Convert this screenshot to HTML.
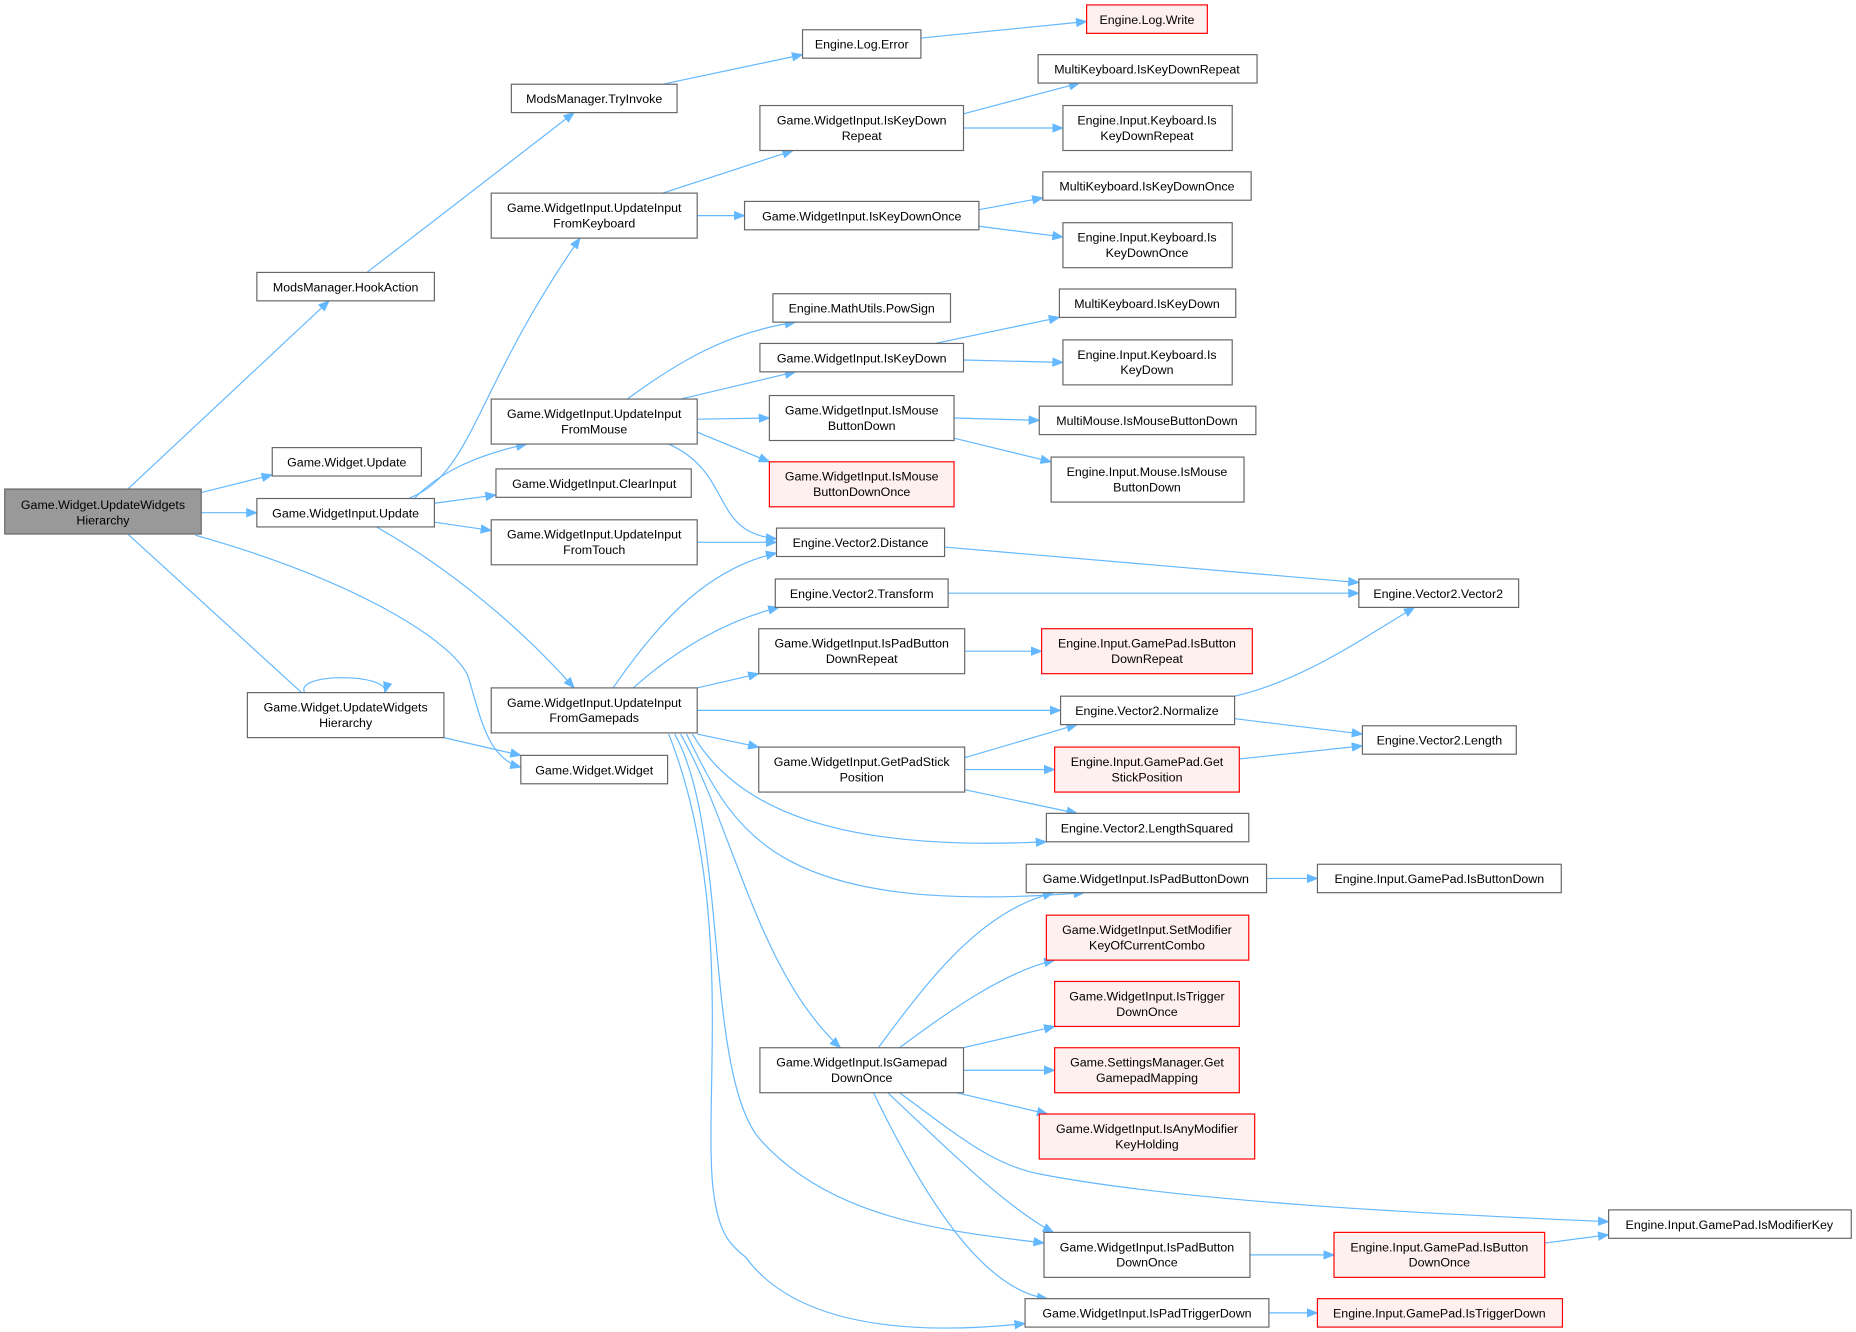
<!DOCTYPE html>
<html><head><meta charset="utf-8"><style>
html,body{margin:0;padding:0;background:#fff;}
svg{display:block;}
text{font-family:"Liberation Sans",Arial,sans-serif;font-size:10.5px;fill:#000;text-anchor:middle;}
.n{fill:#fff;stroke:#666;stroke-width:1;}
.r{fill:#fff0f0;stroke:#f00;stroke-width:1;}
.g{fill:#999;stroke:#666;stroke-width:1;}
.e{fill:none;stroke:#63b8ff;stroke-width:1;marker-end:url(#a);}
</style></head><body>
<svg width="1856" height="1332" viewBox="0 0 1568 1125" xmlns="http://www.w3.org/2000/svg">
<defs><marker id="a" markerWidth="10" markerHeight="8" refX="9" refY="4" orient="auto" markerUnits="userSpaceOnUse"><path d="M0,0 L10,4 L0,8 z" fill="#63b8ff"/></marker></defs>
<g>
<path class="e" d="M108,413 L278,254"/>
<path class="e" d="M170,416 L230,401"/>
<path class="e" d="M170,433 L217,433"/>
<path class="e" d="M108,451 L268,597"/>
<path class="e" d="M165,452 C300,490 380,540 395,570 C405,600 410,640 440,648"/>
<path class="e" d="M310,230 L485,95"/>
<path class="e" d="M560,71 L678,46"/>
<path class="e" d="M778,32 L918,18"/>
<path class="e" d="M345,421 C400,400 400,330 490,201"/>
<path class="e" d="M350,421 C370,400 400,385 445,375"/>
<path class="e" d="M367,425 L419,418"/>
<path class="e" d="M367,441 L415,448"/>
<path class="e" d="M318,445 C380,480 440,530 485,581"/>
<path class="e" d="M258,586 C245,568 330,568 325,585"/>
<path class="e" d="M375,623 L440,638"/>
<path class="e" d="M560,163 L670,127"/>
<path class="e" d="M589,182 L629,182"/>
<path class="e" d="M814,96 L912,70"/>
<path class="e" d="M814,108 L898,108"/>
<path class="e" d="M827,177 L881,167"/>
<path class="e" d="M827,191 L898,200"/>
<path class="e" d="M530,337 C580,300 620,280 672,272"/>
<path class="e" d="M575,337 L672,314"/>
<path class="e" d="M589,354 L650,353"/>
<path class="e" d="M589,365 L650,390"/>
<path class="e" d="M565,375 C620,400 600,450 656,455"/>
<path class="e" d="M790,290 L895,268"/>
<path class="e" d="M814,304 L898,306"/>
<path class="e" d="M806,353 L878,355"/>
<path class="e" d="M806,370 L888,390"/>
<path class="e" d="M589,458 L656,458"/>
<path class="e" d="M798,462 L1148,492"/>
<path class="e" d="M801,501 L1148,501"/>
<path class="e" d="M518,581 C560,520 600,480 656,467"/>
<path class="e" d="M535,581 C570,550 610,525 658,513"/>
<path class="e" d="M589,581 L641,569"/>
<path class="e" d="M815,550 L880,550"/>
<path class="e" d="M589,600 L896,600"/>
<path class="e" d="M589,620 L641,631"/>
<path class="e" d="M1043,588 C1100,575 1150,540 1195,513"/>
<path class="e" d="M1043,607 L1151,620"/>
<path class="e" d="M815,650 L891,650"/>
<path class="e" d="M815,640 L910,612"/>
<path class="e" d="M815,667 L910,687"/>
<path class="e" d="M1047,641 L1151,630"/>
<path class="e" d="M585,620 C620,680 700,720 884,711"/>
<path class="e" d="M580,620 C620,700 650,775 916,754"/>
<path class="e" d="M575,620 C620,700 640,820 710,885"/>
<path class="e" d="M570,620 C615,700 595,900 640,960 C700,1030 800,1040 882,1050"/>
<path class="e" d="M565,620 C620,760 595,920 602,1000 C606,1040 615,1050 630,1062 C680,1130 800,1125 866,1118"/>
<path class="e" d="M1070,742 L1113,742"/>
<path class="e" d="M742,885 C790,820 830,770 890,754"/>
<path class="e" d="M760,885 C800,855 850,820 891,811"/>
<path class="e" d="M814,885 L891,867"/>
<path class="e" d="M814,904 L891,904"/>
<path class="e" d="M808,923 L885,941"/>
<path class="e" d="M760,923 C810,960 840,985 880,992 C1000,1015 1200,1025 1359,1032"/>
<path class="e" d="M750,923 C800,970 850,1020 890,1041"/>
<path class="e" d="M738,923 C780,1010 830,1090 885,1097"/>
<path class="e" d="M1056,1060 L1127,1060"/>
<path class="e" d="M1305,1050 L1359,1043"/>
<path class="e" d="M1072,1109 L1113,1109"/>
</g>
<g>
<rect class="g" x="4" y="413" width="166" height="38"/><text x="87" y="430">Game.Widget.UpdateWidgets</text><text x="87" y="443">Hierarchy</text>
<rect class="n" x="217" y="230" width="150" height="24"/><text x="292" y="246">ModsManager.HookAction</text>
<rect class="n" x="432" y="71" width="140" height="24"/><text x="502" y="87">ModsManager.TryInvoke</text>
<rect class="n" x="678" y="25" width="100" height="24"/><text x="728" y="41">Engine.Log.Error</text>
<rect class="r" x="918" y="4" width="102" height="24"/><text x="969" y="20">Engine.Log.Write</text>
<rect class="n" x="877" y="46" width="185" height="24"/><text x="969" y="62">MultiKeyboard.IsKeyDownRepeat</text>
<rect class="n" x="642" y="89" width="172" height="38"/><text x="728" y="105">Game.WidgetInput.IsKeyDown</text><text x="728" y="118">Repeat</text>
<rect class="n" x="898" y="89" width="143" height="38"/><text x="969" y="105">Engine.Input.Keyboard.Is</text><text x="969" y="118">KeyDownRepeat</text>
<rect class="n" x="415" y="163" width="174" height="38"/><text x="502" y="179">Game.WidgetInput.UpdateInput</text><text x="502" y="192">FromKeyboard</text>
<rect class="n" x="629" y="170" width="198" height="24"/><text x="728" y="186">Game.WidgetInput.IsKeyDownOnce</text>
<rect class="n" x="881" y="145" width="176" height="24"/><text x="969" y="161">MultiKeyboard.IsKeyDownOnce</text>
<rect class="n" x="898" y="188" width="143" height="38"/><text x="969" y="204">Engine.Input.Keyboard.Is</text><text x="969" y="217">KeyDownOnce</text>
<rect class="n" x="653" y="248" width="150" height="24"/><text x="728" y="264">Engine.MathUtils.PowSign</text>
<rect class="n" x="895" y="244" width="149" height="24"/><text x="969" y="260">MultiKeyboard.IsKeyDown</text>
<rect class="n" x="642" y="290" width="172" height="24"/><text x="728" y="306">Game.WidgetInput.IsKeyDown</text>
<rect class="n" x="898" y="287" width="143" height="38"/><text x="969" y="303">Engine.Input.Keyboard.Is</text><text x="969" y="316">KeyDown</text>
<rect class="n" x="415" y="337" width="174" height="38"/><text x="502" y="353">Game.WidgetInput.UpdateInput</text><text x="502" y="366">FromMouse</text>
<rect class="n" x="650" y="334" width="156" height="38"/><text x="728" y="350">Game.WidgetInput.IsMouse</text><text x="728" y="363">ButtonDown</text>
<rect class="n" x="878" y="343" width="183" height="24"/><text x="969" y="359">MultiMouse.IsMouseButtonDown</text>
<rect class="r" x="650" y="390" width="156" height="38"/><text x="728" y="406">Game.WidgetInput.IsMouse</text><text x="728" y="419">ButtonDownOnce</text>
<rect class="n" x="888" y="386" width="163" height="38"/><text x="969" y="402">Engine.Input.Mouse.IsMouse</text><text x="969" y="415">ButtonDown</text>
<rect class="n" x="230" y="378" width="126" height="24"/><text x="293" y="394">Game.Widget.Update</text>
<rect class="n" x="419" y="396" width="165" height="24"/><text x="502" y="412">Game.WidgetInput.ClearInput</text>
<rect class="n" x="217" y="421" width="150" height="24"/><text x="292" y="437">Game.WidgetInput.Update</text>
<rect class="n" x="415" y="439" width="174" height="38"/><text x="502" y="455">Game.WidgetInput.UpdateInput</text><text x="502" y="468">FromTouch</text>
<rect class="n" x="656" y="446" width="142" height="24"/><text x="727" y="462">Engine.Vector2.Distance</text>
<rect class="n" x="655" y="489" width="146" height="24"/><text x="728" y="505">Engine.Vector2.Transform</text>
<rect class="n" x="1148" y="489" width="135" height="24"/><text x="1215" y="505">Engine.Vector2.Vector2</text>
<rect class="n" x="641" y="531" width="174" height="38"/><text x="728" y="547">Game.WidgetInput.IsPadButton</text><text x="728" y="560">DownRepeat</text>
<rect class="r" x="880" y="531" width="178" height="38"/><text x="969" y="547">Engine.Input.GamePad.IsButton</text><text x="969" y="560">DownRepeat</text>
<rect class="n" x="415" y="581" width="174" height="38"/><text x="502" y="597">Game.WidgetInput.UpdateInput</text><text x="502" y="610">FromGamepads</text>
<rect class="n" x="209" y="585" width="166" height="38"/><text x="292" y="601">Game.Widget.UpdateWidgets</text><text x="292" y="614">Hierarchy</text>
<rect class="n" x="896" y="588" width="147" height="24"/><text x="969" y="604">Engine.Vector2.Normalize</text>
<rect class="n" x="1151" y="613" width="130" height="24"/><text x="1216" y="629">Engine.Vector2.Length</text>
<rect class="n" x="440" y="638" width="124" height="24"/><text x="502" y="654">Game.Widget.Widget</text>
<rect class="n" x="641" y="631" width="174" height="38"/><text x="728" y="647">Game.WidgetInput.GetPadStick</text><text x="728" y="660">Position</text>
<rect class="r" x="891" y="631" width="156" height="38"/><text x="969" y="647">Engine.Input.GamePad.Get</text><text x="969" y="660">StickPosition</text>
<rect class="n" x="884" y="687" width="171" height="24"/><text x="969" y="703">Engine.Vector2.LengthSquared</text>
<rect class="n" x="867" y="730" width="203" height="24"/><text x="968" y="746">Game.WidgetInput.IsPadButtonDown</text>
<rect class="n" x="1113" y="730" width="206" height="24"/><text x="1216" y="746">Engine.Input.GamePad.IsButtonDown</text>
<rect class="r" x="884" y="773" width="171" height="38"/><text x="969" y="789">Game.WidgetInput.SetModifier</text><text x="969" y="802">KeyOfCurrentCombo</text>
<rect class="r" x="891" y="829" width="156" height="38"/><text x="969" y="845">Game.WidgetInput.IsTrigger</text><text x="969" y="858">DownOnce</text>
<rect class="r" x="891" y="885" width="156" height="38"/><text x="969" y="901">Game.SettingsManager.Get</text><text x="969" y="914">GamepadMapping</text>
<rect class="n" x="642" y="885" width="172" height="38"/><text x="728" y="901">Game.WidgetInput.IsGamepad</text><text x="728" y="914">DownOnce</text>
<rect class="r" x="878" y="941" width="182" height="38"/><text x="969" y="957">Game.WidgetInput.IsAnyModifier</text><text x="969" y="970">KeyHolding</text>
<rect class="n" x="1359" y="1022" width="205" height="24"/><text x="1461" y="1038">Engine.Input.GamePad.IsModifierKey</text>
<rect class="n" x="882" y="1041" width="174" height="38"/><text x="969" y="1057">Game.WidgetInput.IsPadButton</text><text x="969" y="1070">DownOnce</text>
<rect class="r" x="1127" y="1041" width="178" height="38"/><text x="1216" y="1057">Engine.Input.GamePad.IsButton</text><text x="1216" y="1070">DownOnce</text>
<rect class="n" x="866" y="1097" width="206" height="24"/><text x="969" y="1113">Game.WidgetInput.IsPadTriggerDown</text>
<rect class="r" x="1113" y="1097" width="207" height="24"/><text x="1216" y="1113">Engine.Input.GamePad.IsTriggerDown</text>
</g>
</svg>
</body></html>
